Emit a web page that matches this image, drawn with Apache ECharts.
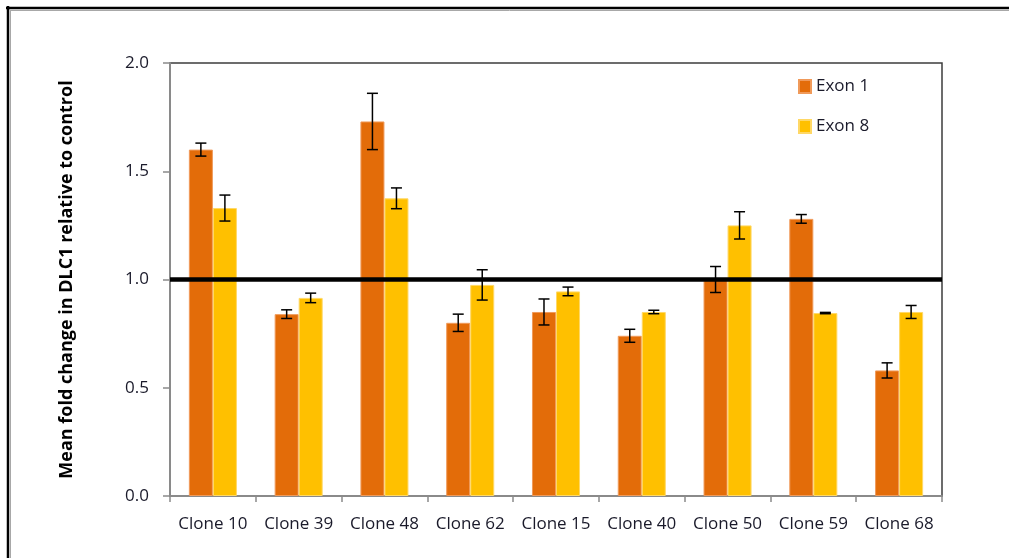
<!DOCTYPE html>
<html>
<head>
<meta charset="utf-8">
<script src="https://cdn.jsdelivr.net/npm/echarts@6/dist/echarts.min.js"></script>
<style>
  html, body { margin: 0; padding: 0; background: #ffffff; }
  #chart { width: 1009px; height: 558px; }
</style>
</head>
<body>
<div id="chart"></div>
<script>
// DLC1 expression per clone, two exon amplicons (mean fold change, +/- error)
const categories = ['Clone 10', 'Clone 39', 'Clone 48', 'Clone 62', 'Clone 15', 'Clone 40', 'Clone 50', 'Clone 59', 'Clone 68'];
const exon1 = [1.60, 0.84, 1.73, 0.80, 0.85, 0.74, 1.00, 1.28, 0.58];
const exon1Err = [0.03, 0.02, 0.13, 0.04, 0.06, 0.03, 0.06, 0.02, 0.035];
const exon8 = [1.33, 0.915, 1.375, 0.975, 0.945, 0.85, 1.25, 0.845, 0.85];
const exon8Err = [0.06, 0.022, 0.048, 0.07, 0.02, 0.008, 0.063, 0.003, 0.03];
const seriesNames = ['Exon 1', 'Exon 8'];
const yMin = 0, yMax = 2, yStep = 0.5;
const controlLevel = 1.0;

const FONT = '"Open Sans", "Noto Sans", sans-serif';
const BAR_FRACTION = 0.28;   // share of a category band taken by one bar
const COLORS = ['#E36C09', '#FFC000'];
const EDGES = ['#F09A5A', '#FFD866'];

// error bar whiskers, drawn at the centre of each bar of a series
function errorBars(values, errs, side) {
  return {
    type: 'custom',
    z: 5,
    silent: true,
    data: values.map((v, i) => [i, v, errs[i]]),
    renderItem: function (params, api) {
      const idx = api.value(0), v = api.value(1), e = api.value(2);
      const band = api.size([1, 0])[0];
      const x = api.coord([idx, v])[0] + side * band * BAR_FRACTION / 2;
      const yTop = api.coord([idx, v + e])[1];
      const yBot = api.coord([idx, v - e])[1];
      const cap = 5.5;
      const style = { stroke: '#000000', lineWidth: 1.5 };
      return {
        type: 'group',
        children: [
          { type: 'line', shape: { x1: x, y1: yTop, x2: x, y2: yBot }, style: style },
          { type: 'line', shape: { x1: x - cap, y1: yTop, x2: x + cap, y2: yTop }, style: style },
          { type: 'line', shape: { x1: x - cap, y1: yBot, x2: x + cap, y2: yBot }, style: style }
        ]
      };
    }
  };
}

const chart = echarts.init(document.getElementById('chart'), null, { renderer: 'canvas' });

const legendText = { fontFamily: FONT, fontSize: 17, color: '#1a1a2a' };

chart.setOption({
  animation: false,
  backgroundColor: '#ffffff',
  grid: {
    left: 170, top: 63, right: 67, bottom: 62,
    show: true, borderColor: '#3c3c3c', borderWidth: 1.5, backgroundColor: 'transparent'
  },
  legend: [
    {
      data: [seriesNames[0]], orient: 'vertical', left: 793, top: 73,
      itemWidth: 12, itemHeight: 13, icon: 'rect', textStyle: legendText, selectedMode: false
    },
    {
      data: [seriesNames[1]], orient: 'vertical', left: 793, top: 113,
      itemWidth: 12, itemHeight: 13, icon: 'rect', textStyle: legendText, selectedMode: false
    }
  ],
  xAxis: {
    type: 'category',
    data: categories,
    boundaryGap: true,
    axisLine: { lineStyle: { color: '#8a8a8a', width: 2 } },
    axisTick: { show: true, length: 6, lineStyle: { color: '#8a8a8a', width: 1.5 } },
    axisLabel: { margin: 20, fontFamily: FONT, fontSize: 17, color: '#1a1a2a', interval: 0 },
    splitLine: { show: false }
  },
  yAxis: {
    type: 'value',
    min: yMin, max: yMax, interval: yStep,
    name: 'Mean fold change in DLC1 relative to control',
    nameLocation: 'middle',
    nameGap: 94,
    nameTextStyle: { fontFamily: FONT, fontSize: 18, fontWeight: 'bold', color: '#000000' },
    axisLine: { show: true, lineStyle: { color: '#8a8a8a', width: 2 } },
    axisTick: { show: true, length: 7, lineStyle: { color: '#8a8a8a', width: 1.5 } },
    axisLabel: {
      margin: 21, fontFamily: FONT, fontSize: 17, color: '#1a1a2a',
      formatter: v => v.toFixed(1)
    },
    splitLine: { show: false }
  },
  series: [
    {
      name: seriesNames[0], type: 'bar', data: exon1,
      barWidth: (BAR_FRACTION * 100) + '%', barGap: '0%',
      itemStyle: { color: COLORS[0], borderColor: EDGES[0], borderWidth: 1 },
      markLine: {
        silent: true, symbol: 'none', z: 10,
        label: { show: false },
        lineStyle: { color: '#000000', width: 4.5, type: 'solid' },
        data: [{ yAxis: controlLevel }]
      }
    },
    {
      name: seriesNames[1], type: 'bar', data: exon8,
      barWidth: (BAR_FRACTION * 100) + '%', barGap: '0%',
      itemStyle: { color: COLORS[1], borderColor: EDGES[1], borderWidth: 1 }
    },
    errorBars(exon1, exon1Err, -1),
    errorBars(exon8, exon8Err, 1)
  ],
  graphic: [
    // outer frame: heavy black rule with a thin grey rule inside it
    { type: 'line', shape: { x1: 6, y1: 8, x2: 1009, y2: 8 }, style: { stroke: '#000000', lineWidth: 2.5 } },
    { type: 'line', shape: { x1: 8, y1: 6, x2: 8, y2: 558 }, style: { stroke: '#000000', lineWidth: 2.5 } },
    { type: 'line', shape: { x1: 10, y1: 10.5, x2: 1009, y2: 10.5 }, style: { stroke: '#a8a8a8', lineWidth: 1 } },
    { type: 'line', shape: { x1: 10.5, y1: 10, x2: 10.5, y2: 558 }, style: { stroke: '#a8a8a8', lineWidth: 1 } }
  ]
});
</script>
</body>
</html>
